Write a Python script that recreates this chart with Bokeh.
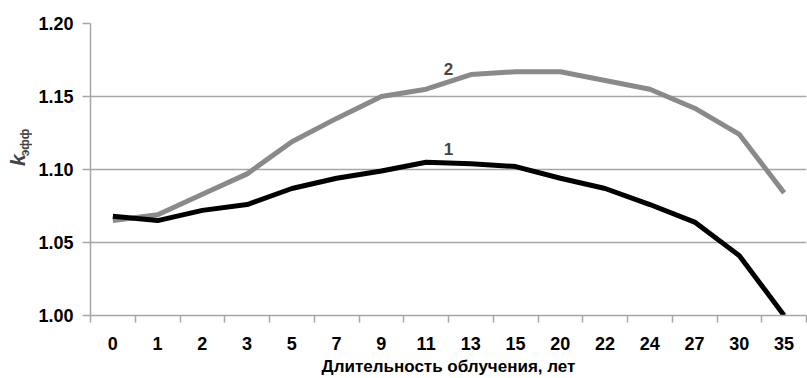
from math import pi
from bokeh.plotting import figure
from bokeh.layouts import row
from bokeh.models import Range1d, FixedTicker, Label, PrintfTickFormatter
from bokeh.embed import file_html
from bokeh.resources import INLINE

years = ["0", "1", "2", "3", "5", "7", "9", "11", "13", "15", "20", "22", "24", "27", "30", "35"]
k_eff_1 = [1.068, 1.065, 1.072, 1.076, 1.087, 1.094, 1.099, 1.105, 1.104, 1.102, 1.094, 1.087, 1.076, 1.064, 1.041, 1.000]
k_eff_2 = [1.065, 1.069, 1.083, 1.097, 1.119, 1.135, 1.150, 1.155, 1.165, 1.167, 1.167, 1.161, 1.155, 1.142, 1.124, 1.084]
y_ticks = [1.00, 1.05, 1.10, 1.15, 1.20]
x_title = "Длительность облучения, лет"
y_title_main = "k"
y_title_sub = "эфф"

FONT = "'Liberation Sans', Arial, sans-serif"
GRID = "#a6a6a6"

n = len(years)
xc = [i + 0.5 for i in range(n)]

SIDE_W = 32
H = 378

# narrow panel holding the rotated y-axis title
side = figure(width=SIDE_W, height=H, x_range=Range1d(0, SIDE_W), y_range=Range1d(0, H),
              output_backend="svg", toolbar_location=None,
              x_axis_location=None, y_axis_location=None,
              min_border_left=0, min_border_right=0, min_border_top=0, min_border_bottom=0)
side.outline_line_color = None
side.grid.grid_line_color = None
side.add_layout(Label(x=17, y=H - 177, text=y_title_main, text_font=FONT,
                      text_font_style="bold italic", text_font_size="21px",
                      text_align="center", text_baseline="middle", angle=pi / 2))
side.add_layout(Label(x=24, y=H - 154, text=y_title_sub, text_font=FONT,
                      text_font_style="bold", text_font_size="12px",
                      text_align="center", text_baseline="middle", angle=pi / 2))

p = figure(width=807 - SIDE_W, height=H, x_range=Range1d(0, n), y_range=Range1d(1.0, 1.2),
           output_backend="svg", toolbar_location=None,
           min_border_left=90 - SIDE_W, min_border_right=1, min_border_top=23, min_border_bottom=62)
p.outline_line_color = None
p.background_fill_color = "white"

# x axis
xa = p.xaxis[0]
xa.ticker = FixedTicker(ticks=xc, minor_ticks=list(range(n + 1)))
xa.major_label_overrides = {c: lab for c, lab in zip(xc, years)}
xa.major_tick_line_color = None
xa.minor_tick_line_color = GRID
xa.minor_tick_line_width = 1.5
xa.minor_tick_out = 7
xa.minor_tick_in = 0
xa.axis_line_color = GRID
xa.axis_line_width = 1.5
xa.major_label_text_font = FONT
xa.major_label_text_font_style = "bold"
xa.major_label_text_font_size = "18px"
xa.major_label_text_color = "black"
xa.major_label_standoff = 14
xa.axis_label = x_title
xa.axis_label_text_font = FONT
xa.axis_label_text_font_style = "bold"
xa.axis_label_text_font_size = "17px"
xa.axis_label_text_color = "black"
xa.axis_label_standoff = 4

# y axis
ya = p.yaxis[0]
ya.ticker = FixedTicker(ticks=y_ticks)
ya.formatter = PrintfTickFormatter(format="%.2f")
ya.major_tick_line_color = GRID
ya.major_tick_line_width = 1.5
ya.major_tick_out = 8
ya.major_tick_in = 0
ya.minor_tick_line_color = None
ya.axis_line_color = GRID
ya.axis_line_width = 1.5
ya.major_label_text_font = FONT
ya.major_label_text_font_style = "bold"
ya.major_label_text_font_size = "18px"
ya.major_label_text_color = "black"
ya.major_label_standoff = 9

p.xgrid.grid_line_color = None
p.ygrid.ticker = FixedTicker(ticks=y_ticks)
p.ygrid.grid_line_color = GRID
p.ygrid.grid_line_width = 1.5

p.line(xc, k_eff_2, line_color="#8a8a8a", line_width=5, line_join="round")
p.line(xc, k_eff_1, line_color="black", line_width=5, line_join="round")

p.add_layout(Label(x=8.0, y=1.1685, text="2", text_font=FONT, text_font_style="bold",
                   text_font_size="17px", text_align="center", text_baseline="middle"))
p.add_layout(Label(x=8.0, y=1.114, text="1", text_font=FONT, text_font_style="bold",
                   text_font_size="17px", text_align="center", text_baseline="middle"))

layout = row(side, p, spacing=0)
open("out.html", "w").write(file_html(layout, INLINE))
